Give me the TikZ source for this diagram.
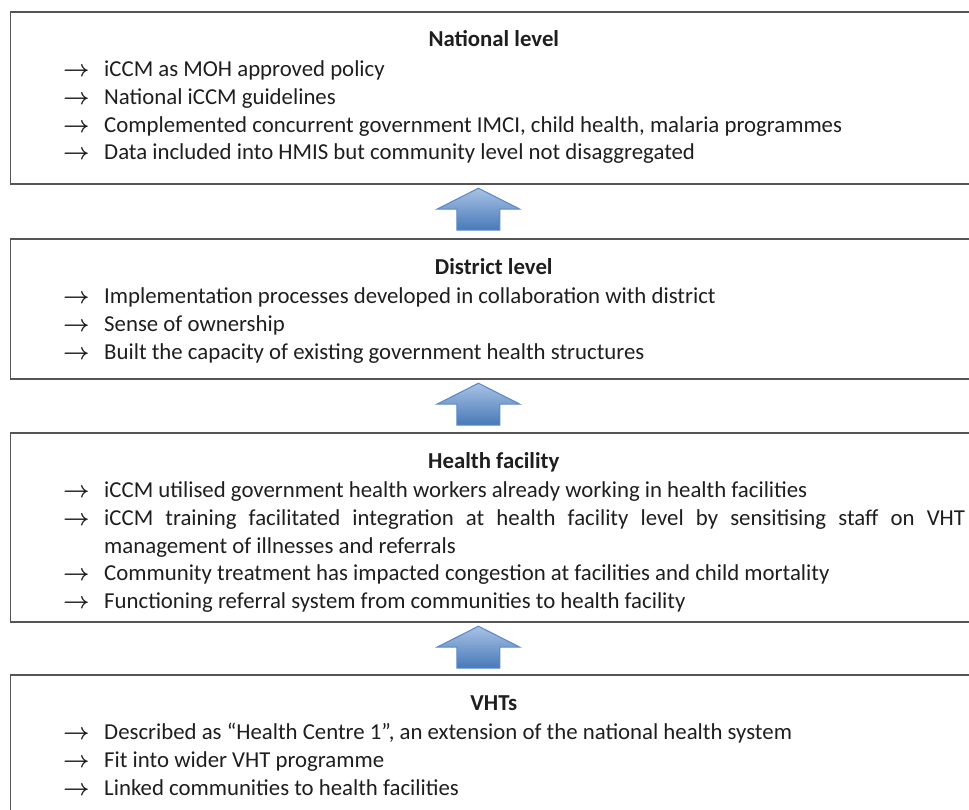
\documentclass[tikz,border=0pt]{standalone}
\usepackage{fontspec}
\setmainfont{Carlito}
\definecolor{boxLine}{HTML}{555555}
\definecolor{inkGrey}{HTML}{1E1E1E}
\definecolor{arrowTop}{HTML}{A9C2E4}
\definecolor{arrowBottom}{HTML}{4779B8}
\definecolor{arrowLine}{HTML}{5A8ACB}
\newcommand{\tip}{{\fontsize{16}{16}\selectfont\boldmath$\rightarrow$}}
\newcommand{\bitem}[1]{\par\hangindent=30.75pt\hangafter=1\noindent\makebox[30.75pt][l]{\tip}#1}
\tikzset{
  panel/.style={draw=boxLine, line width=1.4pt, minimum width=725pt, inner sep=0pt, anchor=north west},
  heading/.style={font=\bfseries\fontsize{17.1}{20.8}\selectfont, text=inkGrey, inner sep=0pt, anchor=base},
  bullets/.style={font=\fontsize{17.1}{20.8}\selectfont, text=inkGrey, text width=676.5pt, align=justify, inner sep=0pt, anchor=base west},
  blockarrow/.style={draw=arrowLine, line width=0.8pt, top color=arrowTop, bottom color=arrowBottom}
}

\begin{document}
\begin{tikzpicture}[x=0.75pt,y=-0.75pt]
\useasboundingbox (0,0) rectangle (969,809);
%national
\node[panel, minimum height=129pt] (national) at (9.5,11) {};
\node[heading] (nationalTitle) at ([yshift=-27pt]national.north) {National level};
\node[bullets] (nationalList) at ([xshift=40.1pt,yshift=-28.5pt]national.north west) {%
\bitem{iCCM as MOH approved policy}
\bitem{National iCCM guidelines}
\bitem{Complemented concurrent government IMCI, child health, malaria programmes}
\bitem{Data included into HMIS but community level not disaggregated}};
%district
\node[panel, minimum height=105pt] (district) at (9.5,238) {};
\node[heading] (districtTitle) at ([yshift=-27pt]district.north) {District level};
\node[bullets] (districtList) at ([xshift=40.1pt,yshift=-28.5pt]district.north west) {%
\bitem{Implementation processes developed in collaboration with district}
\bitem{Sense of ownership}
\bitem{Built the capacity of existing government health structures}};
%health facility
\node[panel, minimum height=141.75pt] (facility) at (9.5,432) {};
\node[heading] (facilityTitle) at ([yshift=-27pt]facility.north) {Health facility};
\node[bullets] (facilityList) at ([xshift=40.1pt,yshift=-28.5pt]facility.north west) {%
\bitem{iCCM utilised government health workers already working in health facilities}
\bitem{iCCM training facilitated integration at health facility level by sensitising staff on VHT\linebreak management of illnesses and referrals}
\bitem{Community treatment has impacted congestion at facilities and child mortality}
\bitem{Functioning referral system from communities to health facility}};
%vhts
\node[panel, minimum height=117pt] (vht) at (9.5,674) {};
\node[heading] (vhtTitle) at ([yshift=-27pt]vht.north) {VHTs};
\node[bullets] (vhtList) at ([xshift=40.1pt,yshift=-28.5pt]vht.north west) {%
\bitem{Described as “Health Centre 1”, an extension of the national health system}
\bitem{Fit into wider VHT programme}
\bitem{Linked communities to health facilities}};
%block arrows
\coordinate (up1) at ([xshift=-11.5pt,yshift=-2.5pt]national.south);
\coordinate (up2) at ([xshift=-11.5pt,yshift=-2.5pt]district.south);
\coordinate (up3) at ([xshift=-11.5pt,yshift=-2.5pt]facility.south);
\foreach \a in {up1,up2,up3}
  \path[blockarrow] (\a) -- ++(41.5,21) -- ++(-20,0) -- ++(0,21) -- ++(-43,0) -- ++(0,-21) -- ++(-20,0) -- cycle;
\end{tikzpicture}
\end{document}
